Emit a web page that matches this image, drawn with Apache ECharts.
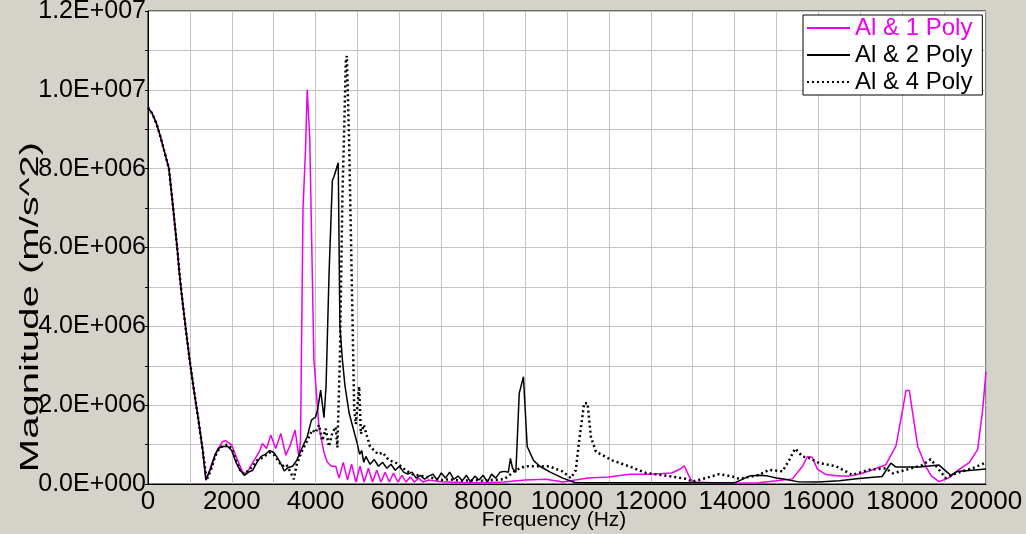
<!DOCTYPE html>
<html>
<head>
<meta charset="utf-8">
<script src="https://cdn.jsdelivr.net/npm/echarts@6/dist/echarts.min.js"></script>
<style>
html,body{margin:0;padding:0;background:#d5d2ca;}
#chart{width:1026px;height:534px;}
</style>
</head>
<body>
<div id="chart"></div>
<script>
// Magnitude values in units of 1E+006 m/s^2, frequency in Hz
const seriesNames = ['Al & 1 Poly', 'Al & 2 Poly', 'Al & 4 Poly'];
const xTicks = [0, 2000, 4000, 6000, 8000, 10000, 12000, 14000, 16000, 18000, 20000];
const yTicks = [0, 2, 4, 6, 8, 10, 12];

const al1Poly = [
  [0,9.55],[100,9.4],[200,9.15],[300,8.8],[400,8.4],[500,8.0],[600,7.0],[700,5.95],[750,5.35],[800,4.85],
  [900,3.95],[1000,3.1],[1100,2.35],[1200,1.65],[1300,0.9],[1390,0.1],
  [1500,0.45],[1650,0.85],[1775,1.07],[1850,1.1],[2000,0.99],[2100,0.7],[2200,0.45],[2290,0.23],[2400,0.35],
  [2530,0.6],[2650,0.8],[2730,1.03],[2830,0.9],[2930,1.24],[3050,0.9],[3170,1.28],[3290,0.73],[3400,1.0],
  [3510,1.37],[3600,0.69],[3640,1.1],[3700,7.0],[3760,8.5],[3800,10.0],[3830,10.05],[3860,8.8],[3890,7.1],
  [3960,3.15],[4080,1.45],[4200,0.8],[4280,0.55],[4380,0.45],[4480,0.45],
  [4560,0.15],[4660,0.55],[4760,0.1],[4860,0.5],[4960,0.05],[5060,0.45],[5160,0.05],[5260,0.4],[5360,0.05],
  [5460,0.35],[5560,0.05],[5660,0.3],[5760,0.05],[5860,0.28],[5960,0.05],[6060,0.22],[6160,0.05],[6260,0.18],
  [6360,0.05],[6460,0.15],[6560,0.05],[6700,0.1],[7000,0.06],[7500,0.04],[8000,0.03],[8500,0.05],[9000,0.1],
  [9500,0.12],[9900,0.05],[10200,0.1],[10500,0.15],[11000,0.18],[11500,0.25],[12000,0.25],[12500,0.28],
  [12700,0.38],[12800,0.46],[12910,0.2],[13000,0.05],[13500,0.03],[14000,0.02],[14585,0.03],[15000,0.08],
  [15380,0.13],[15620,0.45],[15740,0.7],[15850,0.68],[15980,0.37],[16180,0.24],[16500,0.2],[16730,0.2],
  [17000,0.26],[17210,0.33],[17610,0.49],[17850,0.96],[18010,1.88],[18090,2.37],[18170,2.37],[18250,1.8],
  [18370,0.96],[18560,0.45],[18700,0.2],[18880,0.06],[19120,0.16],[19360,0.37],[19600,0.54],[19800,0.87],
  [19920,1.88],[20000,2.85]
];

const al2Poly = [
  [0,9.55],[100,9.4],[200,9.15],[300,8.8],[400,8.4],[500,8.0],[600,7.0],[700,5.95],[750,5.35],[800,4.85],
  [900,3.95],[1000,3.1],[1100,2.35],[1200,1.65],[1300,0.9],[1380,0.1],
  [1500,0.4],[1600,0.75],[1700,0.92],[1800,0.95],[1900,0.95],[2000,0.85],[2100,0.55],[2200,0.35],[2300,0.22],
  [2400,0.3],[2500,0.35],[2600,0.55],[2700,0.7],[2800,0.75],[2900,0.85],[3000,0.8],[3100,0.65],[3200,0.45],
  [3250,0.33],[3350,0.42],[3450,0.45],[3550,0.6],[3650,0.85],[3800,1.2],[3900,1.62],[4000,1.7],[4050,1.9],
  [4120,2.38],[4200,1.68],[4250,2.5],[4320,5.3],[4400,7.7],[4440,7.8],[4540,8.15],[4580,4.0],[4640,3.15],
  [4700,2.5],[4800,1.8],[4900,1.4],[5000,1.0],[5050,0.75],[5100,0.85],[5150,0.55],[5200,0.7],[5300,0.5],
  [5400,0.62],[5500,0.45],[5600,0.55],[5700,0.4],[5800,0.5],[5900,0.35],[6000,0.45],[6100,0.3],[6200,0.25],
  [6300,0.3],[6400,0.15],[6500,0.22],[6600,0.12],[6700,0.2],[6800,0.25],[6900,0.1],[7000,0.28],[7100,0.15],
  [7200,0.3],[7300,0.12],[7400,0.2],[7500,0.08],[7600,0.22],[7700,0.05],[7800,0.2],[7900,0.1],[8000,0.22],
  [8100,0.05],[8200,0.25],[8300,0.15],[8400,0.3],[8500,0.32],[8600,0.3],[8650,0.65],[8700,0.4],[8780,0.3],
  [8860,2.3],[8960,2.72],[9050,0.95],[9200,0.6],[9350,0.45],[9600,0.3],[9900,0.15],[10200,0.03],[11000,0.03],
  [12000,0.03],[13000,0.03],[14000,0.03],[14350,0.2],[14600,0.22],[14800,0.2],[15000,0.15],[15200,0.12],
  [15500,0.06],[16000,0.05],[16500,0.08],[16970,0.14],[17520,0.19],[17730,0.53],[17850,0.43],[18400,0.43],
  [18880,0.48],[19160,0.22],[19310,0.32],[20000,0.38]
];

const al4Poly = [
  [0,9.55],[100,9.4],[200,9.15],[300,8.8],[400,8.4],[500,8.0],[600,7.0],[700,5.95],[750,5.35],[800,4.85],
  [900,3.95],[1000,3.1],[1100,2.35],[1200,1.65],[1300,0.9],[1400,0.1],
  [1500,0.35],[1600,0.7],[1700,0.9],[1800,0.98],[1900,1.0],[2000,0.9],[2100,0.6],[2200,0.35],[2300,0.25],
  [2400,0.35],[2500,0.45],[2600,0.6],[2700,0.65],[2800,0.72],[2900,0.8],[3000,0.75],[3100,0.6],[3200,0.45],
  [3300,0.5],[3400,0.3],[3480,0.12],[3550,0.5],[3680,0.85],[3800,1.1],[3920,1.37],[4000,1.3],[4080,1.5],
  [4160,1.1],[4240,1.4],[4320,0.95],[4400,1.3],[4480,1.45],[4520,0.93],[4580,3.2],[4640,7.3],[4680,8.9],
  [4720,10.7],[4745,10.86],[4800,8.7],[4860,5.35],[4920,1.95],[4960,1.52],[5040,2.47],[5080,1.27],[5150,1.5],
  [5230,1.2],[5300,0.95],[5400,0.85],[5500,0.75],[5600,0.8],[5750,0.6],[5900,0.55],[6000,0.48],[6150,0.35],
  [6300,0.25],[6550,0.2],[6800,0.15],[7000,0.1],[7200,0.12],[7500,0.08],[7800,0.1],[8000,0.08],[8200,0.1],
  [8500,0.12],[8776,0.35],[9000,0.45],[9300,0.45],[9570,0.45],[9890,0.32],[10090,0.15],[10210,0.35],
  [10290,1.1],[10410,2.05],[10490,2.05],[10570,1.2],[10690,0.82],[11080,0.6],[11480,0.45],[11880,0.28],
  [12440,0.2],[12840,0.13],[12990,0.06],[13310,0.15],[13630,0.25],[13950,0.19],[14110,0.13],[14585,0.23],
  [14820,0.36],[15140,0.32],[15300,0.6],[15445,0.9],[15620,0.7],[15800,0.65],[16020,0.53],[16420,0.45],
  [16810,0.23],[17210,0.36],[17610,0.4],[17770,0.27],[18090,0.36],[18480,0.48],[18680,0.63],[18880,0.36],
  [19040,0.15],[19280,0.27],[19680,0.4],[19920,0.51],[20000,0.55]
];

const colors = ['#ee00ee', '#000000', '#000000'];
const labelFont = "'Liberation Sans', Arial, sans-serif";

function yFmt(v) {
  if (yTicks.indexOf(v) < 0) return '';
  if (v === 0) return '0.0E+000';
  if (v >= 10) return (v / 10).toFixed(1) + 'E+007';
  return v.toFixed(1) + 'E+006';
}
function xFmt(v) {
  return xTicks.indexOf(v) >= 0 ? String(v) : '';
}

const chart = echarts.init(document.getElementById('chart'), null, {renderer: 'canvas'});
chart.setOption({
  backgroundColor: '#d5d2ca',
  animation: false,
  grid: {left: 148, right: 40, top: 11, bottom: 50, outerBoundsMode: 'none', containLabel: false,
         show: true, backgroundColor: '#ffffff', borderColor: '#000', borderWidth: 1},
  legend: {
    orient: 'vertical', left: 803, top: 15,
    backgroundColor: '#ffffff', borderColor: '#000', borderWidth: 1,
    padding: [1, 10, 1, 3], itemGap: 3, itemWidth: 43, itemHeight: 14,
    itemStyle: {opacity: 0},
    textStyle: {fontSize: 24, fontFamily: labelFont, color: '#000', lineHeight: 24},
    data: [
      {name: seriesNames[0], textStyle: {color: '#ee00ee'}},
      {name: seriesNames[1]},
      {name: seriesNames[2]}
    ]
  },
  xAxis: {
    type: 'value', min: 0, max: 20000, interval: 1000,
    name: 'Frequency (Hz)', nameLocation: 'middle', nameGap: 26, nameMoveOverlap: false,
    nameTextStyle: {fontSize: 21, fontFamily: labelFont, color: '#000', padding: [0, 26, 0, 0]},
    axisLine: {show: true, lineStyle: {color: '#000', width: 1}},
    axisTick: {show: false},
    axisLabel: {formatter: xFmt, fontSize: 26, fontFamily: labelFont, color: '#000', margin: 5, hideOverlap: false},
    splitLine: {show: true, lineStyle: {color: '#c4c4c4', width: 1}}
  },
  yAxis: {
    type: 'value', min: 0, max: 12, interval: 1,
    axisLine: {show: true, lineStyle: {color: '#000', width: 1}},
    axisTick: {show: true, length: 3, lineStyle: {color: '#000'}},
    axisLabel: {formatter: yFmt, fontSize: 25, fontFamily: labelFont, color: '#000', margin: 2},
    splitLine: {show: true, lineStyle: {color: '#c4c4c4', width: 1}}
  },
  graphic: [{
    type: 'text', x: 31, y: 307, rotation: Math.PI / 2, scaleX: 1.54,
    style: {text: 'Magnitude (m/s^2)', fontSize: 26, fontFamily: labelFont, fill: '#000', align: 'center', verticalAlign: 'middle'},
    z: 100
  }],
  series: [
    {name: seriesNames[0], type: 'line', data: al1Poly, symbol: 'none', z: 3,
     lineStyle: {color: colors[0], width: 1.5}, itemStyle: {color: colors[0]}},
    {name: seriesNames[1], type: 'line', data: al2Poly, symbol: 'none', z: 4,
     lineStyle: {color: colors[1], width: 1.5}, itemStyle: {color: colors[1]}},
    {name: seriesNames[2], type: 'line', data: al4Poly, symbol: 'none', z: 5,
     lineStyle: {color: colors[2], width: 2.5, type: [2, 3]}, itemStyle: {color: colors[2]}}
  ]
});
</script>
</body>
</html>
